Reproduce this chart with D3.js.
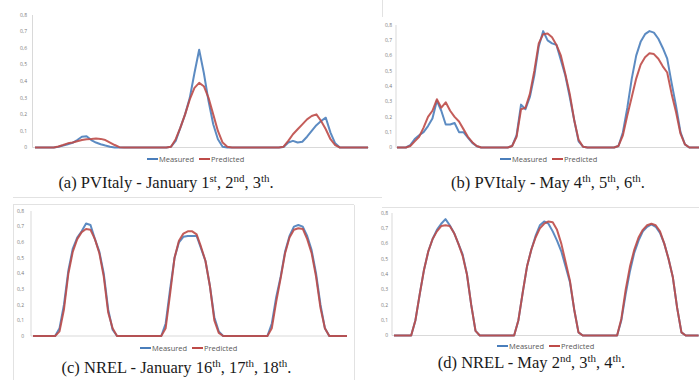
<!DOCTYPE html>
<html>
<head>
<meta charset="utf-8">
<script src="https://cdn.jsdelivr.net/npm/d3@7"></script>
<style>
  body { margin: 0; background: #fff; }
</style>
</head>
<body>
<svg id="chart"></svg>
<script>
// y ticks shared by all four panels (comma decimals, as in the source)
const yTicks = [0, 0.1, 0.2, 0.3, 0.4, 0.5, 0.6, 0.7, 0.8];
const seriesNames = ["Measured", "Predicted"];

// hourly values, 3 days = 72 points per series
const pvItalyJanMeasured = [0,0,0,0,0, 0.005,0.012,0.02,0.028,0.045,0.065,0.068,0.045,0.03,0.02,0.012,0.005,0,
  0,0,0,0,0,0,0,0,0,0,0,
  0.005,0.04,0.12,0.2,0.3,0.45,0.59,0.45,0.28,0.14,0.05,0.005,0,
  0,0,0,0,0,0,0,0,0,0,0,
  0.003,0.03,0.04,0.03,0.035,0.065,0.1,0.135,0.16,0.18,0.09,0.025,0,
  0,0,0,0,0,0];
const pvItalyJanPredicted = [0,0,0,0,0, 0.006,0.015,0.025,0.03,0.038,0.045,0.05,0.052,0.055,0.052,0.045,0.03,0.015,0.002,
  0,0,0,0,0,0,0,0,0,0,
  0.005,0.05,0.12,0.2,0.29,0.36,0.39,0.37,0.3,0.2,0.1,0.03,0.005,
  0,0,0,0,0,0,0,0,0,0,0,
  0.005,0.04,0.08,0.11,0.14,0.17,0.19,0.2,0.16,0.11,0.05,0.015,
  0,0,0,0,0,0,0];

const pvItalyMayMeasured = [0,0,0, 0.015,0.055,0.08,0.1,0.14,0.19,0.305,0.24,0.15,0.15,0.16,0.1,0.1,0.065,0.03,0.008,
  0,0,0,0,0,0,0,
  0.01,0.08,0.28,0.25,0.33,0.47,0.66,0.76,0.7,0.68,0.67,0.57,0.47,0.33,0.18,0.04,0.005,
  0,0,0,0,0,0,0,
  0.01,0.1,0.26,0.45,0.6,0.69,0.74,0.76,0.75,0.71,0.65,0.58,0.42,0.27,0.1,0.02,
  0,0,0,0,0,0];
const pvItalyMayPredicted = [0,0,0, 0.01,0.04,0.07,0.13,0.2,0.24,0.315,0.26,0.295,0.24,0.2,0.17,0.12,0.07,0.035,0.01,
  0,0,0,0,0,0,0,
  0.01,0.07,0.25,0.26,0.35,0.5,0.68,0.74,0.745,0.72,0.67,0.6,0.48,0.35,0.18,0.05,0.005,
  0,0,0,0,0,0,0,
  0.01,0.08,0.21,0.33,0.45,0.54,0.59,0.615,0.61,0.58,0.53,0.49,0.35,0.23,0.09,0.02,
  0,0,0,0,0,0];

const nrelJanMeasured = [0,0,0,0,0,0, 0.05,0.2,0.42,0.56,0.63,0.67,0.72,0.71,0.62,0.54,0.4,0.17,0.04,
  0,0,0,0,0,0,0,0,0,0,0,
  0.08,0.3,0.5,0.6,0.635,0.64,0.64,0.64,0.56,0.48,0.32,0.12,0.03,
  0,0,0,0,0,0,0,0,0,0,0,
  0.08,0.25,0.38,0.54,0.64,0.7,0.71,0.7,0.64,0.55,0.4,0.2,0.05,
  0,0,0,0,0];
const nrelJanPredicted = [0,0,0,0,0,0, 0.03,0.17,0.4,0.54,0.62,0.665,0.685,0.68,0.62,0.53,0.38,0.15,0.05,
  0,0,0,0,0,0,0,0,0,0,0,
  0.05,0.27,0.5,0.61,0.655,0.67,0.67,0.65,0.57,0.48,0.32,0.1,0.02,
  0,0,0,0,0,0,0,0,0,0,0,
  0.05,0.22,0.37,0.53,0.63,0.68,0.69,0.685,0.62,0.53,0.38,0.18,0.05,
  0,0,0,0,0];

const nrelMayMeasured = [0,0,0,0,0, 0.1,0.27,0.43,0.55,0.63,0.69,0.73,0.76,0.72,0.67,0.6,0.53,0.4,0.2,0.03,
  0,0,0,0,0,0,0,0,0,
  0.1,0.28,0.45,0.56,0.65,0.72,0.745,0.73,0.68,0.62,0.55,0.45,0.35,0.17,0.02,
  0,0,0,0,0,0,0,0,0,
  0.1,0.27,0.42,0.54,0.62,0.68,0.71,0.725,0.71,0.67,0.6,0.5,0.38,0.18,0.02,
  0,0,0,0];
const nrelMayPredicted = [0,0,0,0,0, 0.1,0.27,0.43,0.55,0.63,0.68,0.715,0.72,0.715,0.67,0.6,0.52,0.4,0.2,0.03,
  0,0,0,0,0,0,0,0,0,
  0.1,0.28,0.45,0.56,0.64,0.7,0.73,0.745,0.74,0.69,0.6,0.48,0.36,0.17,0.02,
  0,0,0,0,0,0,0,0,0,
  0.11,0.3,0.45,0.56,0.64,0.69,0.72,0.73,0.72,0.68,0.6,0.5,0.38,0.18,0.02,
  0,0,0,0];

// captions: [text, superscript?]
const captionA = [["(a) PVItaly - January 1"], ["st", 1], [", 2"], ["nd", 1], [", 3"], ["th", 1], ["."]];
const captionB = [["(b) PVItaly - May 4"], ["th", 1], [", 5"], ["th", 1], [", 6"], ["th", 1], ["."]];
const captionC = [["(c) NREL - January 16"], ["th", 1], [", 17"], ["th", 1], [", 18"], ["th", 1], ["."]];
const captionD = [["(d) NREL - May 2"], ["nd", 1], [", 3"], ["th", 1], [", 4"], ["th", 1], ["."]];

const width = 699, height = 380;
const colors = ["#4a7ebb", "#be4b48"];

const svg = d3.select("#chart")
    .attr("width", width)
    .attr("height", height);

// faint frame edges of the pasted figures
const frames = [
  [13, 197.5, 382, 197.5], [13, 204.5, 354, 204.5], [13.5, 204, 13.5, 380],
  [354.5, 205, 354.5, 380], [382, 207.5, 699, 207.5], [382.5, 0, 382.5, 17]
];
svg.selectAll("line.frame")
    .data(frames)
    .join("line")
    .attr("class", "frame")
    .attr("x1", d => d[0]).attr("y1", d => d[1])
    .attr("x2", d => d[2]).attr("y2", d => d[3])
    .attr("stroke", "#e2e2e2")
    .attr("stroke-width", 1);

const panels = [
  {m: pvItalyJanMeasured, p: pvItalyJanPredicted, cap: captionA,
   x0: 35, x1: 368, yBase: 147.5, yTop: 15, axisX: 32.5, labelX: 27, right: 369,
   legendX: 147, legendY: 159, capX: 166, capY: 187.5},
  {m: pvItalyMayMeasured, p: pvItalyMayPredicted, cap: captionB,
   x0: 397, x1: 711.5, yBase: 147.5, yTop: 25, axisX: 396, labelX: 392, right: 699,
   legendX: 500, legendY: 159, capX: 548, capY: 187.5},
  {m: nrelJanMeasured, p: nrelJanPredicted, cap: captionC,
   x0: 33, x1: 347, yBase: 336, yTop: 211, axisX: 31, labelX: 24, right: 347,
   legendX: 140, legendY: 348, capX: 176.5, capY: 372.5},
  {m: nrelMayMeasured, p: nrelMayPredicted, cap: captionD,
   x0: 394, x1: 698.6, yBase: 335.5, yTop: 213, axisX: 392, labelX: 388, right: 699,
   legendX: 497, legendY: 346, capX: 531.5, capY: 367.5}
];

panels.forEach(cfg => {
  const g = svg.append("g");
  const n = cfg.m.length;

  const x = d3.scaleLinear().domain([0, n - 1]).range([cfg.x0, cfg.x1]);
  const y = d3.scaleLinear().domain([0, 0.8]).range([cfg.yBase, cfg.yTop]);

  // left axis line and tick labels
  g.append("line")
      .attr("x1", cfg.axisX).attr("x2", cfg.axisX)
      .attr("y1", y(0.8)).attr("y2", y(0))
      .attr("stroke", "#d9d9d9");

  g.selectAll("text.tick")
      .data(yTicks)
      .join("text")
      .attr("class", "tick")
      .attr("x", cfg.labelX)
      .attr("y", d => y(d))
      .attr("dy", "0.35em")
      .attr("text-anchor", "end")
      .attr("font-family", "Open Sans, sans-serif")
      .attr("font-size", "5px")
      .attr("fill", "#7a7a7a")
      .text(d => d === 0 ? "0" : d3.format(".1f")(d).replace(".", ","));

  // baseline
  g.append("line")
      .attr("x1", cfg.axisX).attr("x2", cfg.right)
      .attr("y1", y(0)).attr("y2", y(0))
      .attr("stroke", "#d9d9d9");

  const line = d3.line()
      .x((d, i) => x(i))
      .y(d => y(d));

  [cfg.m, cfg.p].forEach((values, k) => {
    g.append("path")
        .datum(values)
        .attr("d", line)
        .attr("fill", "none")
        .attr("stroke", colors[k])
        .attr("stroke-width", 2)
        .attr("stroke-linejoin", "round")
        .attr("opacity", 0.9);
  });

  // legend
  const lg = g.append("g").attr("transform", `translate(${cfg.legendX},${cfg.legendY})`);
  seriesNames.forEach((name, k) => {
    const off = k * 52;
    lg.append("line")
        .attr("x1", off).attr("x2", off + 11)
        .attr("y1", 0).attr("y2", 0)
        .attr("stroke", colors[k])
        .attr("stroke-width", 2);
    lg.append("text")
        .attr("x", off + 12)
        .attr("y", 0)
        .attr("dy", "0.35em")
        .attr("font-family", "Open Sans, sans-serif")
        .attr("font-size", "7.5px")
        .attr("fill", "#595959")
        .text(name);
  });

  // caption with superscripts
  const cap = g.append("text")
      .attr("x", cfg.capX)
      .attr("y", cfg.capY)
      .attr("text-anchor", "middle")
      .attr("font-family", "Liberation Serif, serif")
      .attr("font-size", "16.5px")
      .attr("fill", "#1a1a1a");
  let raised = false;
  cfg.cap.forEach(seg => {
    const t = cap.append("tspan").text(seg[0]);
    if (seg[1]) {
      t.attr("font-size", "11px").attr("dy", raised ? 0 : -6);
      raised = true;
    } else if (raised) {
      t.attr("dy", 6);
      raised = false;
    }
  });
});
</script>
</body>
</html>
